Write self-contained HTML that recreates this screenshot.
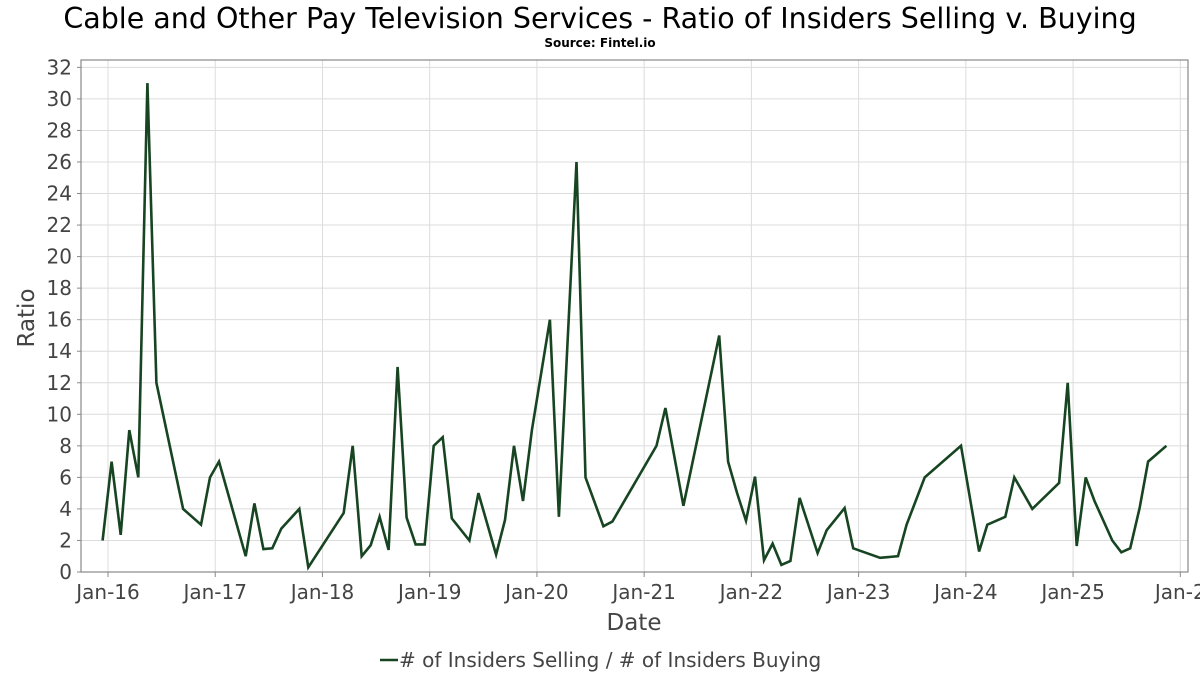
<!DOCTYPE html>
<html><head><meta charset="utf-8">
<style>
html,body{margin:0;padding:0;background:#fff;}
body{width:1200px;height:675px;overflow:hidden;font-family:"Liberation Sans","DejaVu Sans",sans-serif;}
</style></head>
<body>
<svg id="chart" width="1200" height="675" xmlns="http://www.w3.org/2000/svg">
<text x="600" y="28" text-anchor="middle" font-family="DejaVu Sans, Liberation Sans, sans-serif" font-size="28.5" fill="#000">Cable and Other Pay Television Services - Ratio of Insiders Selling v. Buying</text>
<text x="600" y="47" text-anchor="middle" font-family="DejaVu Sans, Liberation Sans, sans-serif" font-size="12" font-weight="bold" fill="#000">Source: Fintel.io</text>
<g id="grid"></g>
<rect x="81" y="60" width="1107" height="512" fill="none" stroke="#888" stroke-width="1.2"/>
<g id="ticks"></g>
<path id="series" fill="none" stroke="#174421" stroke-width="2.6" stroke-linejoin="miter"/>
<text x="634" y="630" text-anchor="middle" font-family="DejaVu Sans, Liberation Sans, sans-serif" font-size="23" fill="#444">Date</text>
<text x="0" y="0" transform="translate(34,318) rotate(-90)" text-anchor="middle" font-family="DejaVu Sans, Liberation Sans, sans-serif" font-size="23" fill="#444">Ratio</text>
<g>
<line x1="380" y1="660" x2="398" y2="660" stroke="#174421" stroke-width="2.6"/>
<text x="399" y="667" font-family="DejaVu Sans, Liberation Sans, sans-serif" font-size="20" fill="#444"># of Insiders Selling / # of Insiders Buying</text>
</g>
</svg>
<script>
const dates = [2015.95,2016.034,2016.118,2016.199,2016.283,2016.367,2016.451,2016.70,2016.867,2016.951,2017.035,2017.284,2017.365,2017.449,2017.532,2017.616,2017.784,2017.868,2018.198,2018.282,2018.366,2018.45,2018.533,2018.617,2018.701,2018.785,2018.869,2018.953,2019.037,2019.121,2019.206,2019.37,2019.454,2019.619,2019.702,2019.786,2019.87,2019.953,2020.121,2020.205,2020.369,2020.453,2020.62,2020.704,2021.115,2021.198,2021.366,2021.70,2021.783,2021.867,2021.95,2022.034,2022.118,2022.198,2022.28,2022.364,2022.45,2022.618,2022.702,2022.869,2022.95,2023.2,2023.367,2023.448,2023.616,2023.955,2024.124,2024.2,2024.368,2024.452,2024.62,2024.87,2024.95,2025.034,2025.118,2025.2,2025.366,2025.45,2025.533,2025.62,2025.7,2025.87];
const ratios = [2,7,2.35,9,6,31,12,4,3,6,7,1,4.35,1.45,1.5,2.75,4,0.3,3.75,8,1,1.7,3.5,1.4,13,3.45,1.75,1.75,8,8.55,3.4,2,5,1.1,3.3,8,4.5,9,16,3.5,26,6,2.9,3.2,8,10.4,4.2,15,7,5,3.25,6.05,0.75,1.8,0.45,0.7,4.7,1.2,2.65,4.05,1.5,0.9,1,3,6,8,1.3,3,3.5,6,4,5.65,12,1.65,6,4.5,2,1.25,1.5,4.05,7,8];
const yTicks = [0,2,4,6,8,10,12,14,16,18,20,22,24,26,28,30,32];
const xTickYears = [2016,2017,2018,2019,2020,2021,2022,2023,2024,2025,2026];
const xTickLabels = ["Jan-16","Jan-17","Jan-18","Jan-19","Jan-20","Jan-21","Jan-22","Jan-23","Jan-24","Jan-25","Jan-2"];

const NS="http://www.w3.org/2000/svg";
function xs(t){return 108 + (t-2016)*107.23;}
function ys(v){return 572 - v*15.77;}
const grid=document.getElementById('grid'), ticks=document.getElementById('ticks');
function mk(tag,attrs,parent){const e=document.createElementNS(NS,tag);for(const k in attrs)e.setAttribute(k,attrs[k]);parent.appendChild(e);return e;}
yTicks.forEach(v=>{
  const y=ys(v);
  if(v>0){const g=mk('line',{x1:81,x2:1188,y1:y,y2:y,stroke:'#dcdcdc','stroke-width':1},grid);
  
  }
  const tk=mk('line',{x1:77,x2:81,y1:y,y2:y,stroke:'#888'},ticks);
  
  
  const t=mk('text',{x:72,y:y+7,'text-anchor':'end','font-size':20,fill:'#444','font-family':'DejaVu Sans, Liberation Sans, sans-serif'},ticks);
  t.textContent=v;
  
  
});
xTickYears.forEach((yr,i)=>{
  const x=xs(yr);
  const g=mk('line',{x1:x,x2:x,y1:60,y2:572,stroke:'#dcdcdc','stroke-width':1},grid);
  
  
  const tk=mk('line',{x1:x,x2:x,y1:572,y2:577,stroke:'#888'},ticks);
  
  
  const t=mk('text',{x:x,y:599,'text-anchor':'middle','font-size':20,fill:'#444','font-family':'DejaVu Sans, Liberation Sans, sans-serif'},ticks);
  t.textContent=xTickLabels[i];
  
  
});
let d='';
dates.forEach((t,i)=>{d+=(i?'L':'M')+xs(t).toFixed(1)+','+ys(ratios[i]).toFixed(1);});
document.getElementById('series').setAttribute('d',d);
</script>
</body></html>
